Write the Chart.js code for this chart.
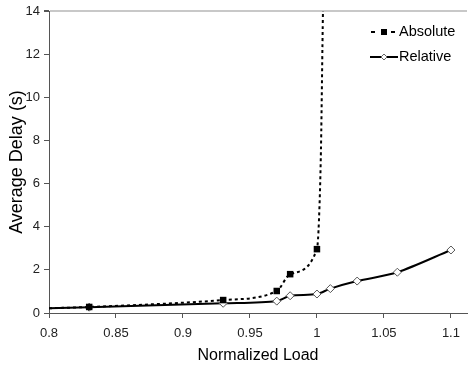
<!DOCTYPE html>
<html>
<head>
<meta charset="utf-8">
<script src="https://cdn.jsdelivr.net/npm/chart.js@4/dist/chart.umd.min.js"></script>
<style>
html,body{margin:0;padding:0;background:#fff;overflow:hidden;}
#wrap{width:472px;height:367px;position:relative;}
canvas{display:block;}
</style>
</head>
<body>
<div id="wrap"><canvas id="c" width="472" height="367"></canvas></div>
<script>
// Data
const loadAbsolute = [0.8, 0.83, 0.93, 0.97, 0.98, 1.0, 1.0015, 1.003, 1.0045, 1.006];
const delayAbsolute = [0.22, 0.28, 0.6, 1.02, 1.8, 2.96, 4.3, 7.6, 14, 18];
const markerAbsolute = [false, true, true, true, true, true, false, false, false, false];

const loadRelative = [0.8, 0.83, 0.93, 0.97, 0.98, 1.0, 1.01, 1.03, 1.06, 1.1];
const delayRelative = [0.22, 0.27, 0.45, 0.55, 0.8, 0.88, 1.13, 1.48, 1.89, 2.92];
const markerRelative = [false, true, true, true, true, true, true, true, true, true];

const xTickLabels = [0.8, 0.85, 0.9, 0.95, 1, 1.05, 1.1];
const yTickLabels = [0, 2, 4, 6, 8, 10, 12, 14];
const seriesNames = ['Absolute', 'Relative'];
const axisTitles = {x: 'Normalized Load', y: 'Average Delay (s)'};

const FONT = '"Liberation Sans", Arial, sans-serif';

const toPoints = (xs, ys) => xs.map((x, i) => ({x: x, y: ys[i]}));

const insideLegend = {
  id: 'insideLegend',
  afterDraw(chart) {
    const ctx = chart.ctx;
    ctx.save();
    ctx.font = '14.5px ' + FONT;
    ctx.fillStyle = '#000';
    ctx.textBaseline = 'middle';
    // Absolute
    let y = 32;
    ctx.fillRect(371, y - 1, 4, 2);
    ctx.fillRect(391, y - 1, 4, 2);
    ctx.fillRect(381, y - 3, 6, 6);
    ctx.fillText(seriesNames[0], 399, y);
    // Relative
    y = 57;
    ctx.strokeStyle = '#000';
    ctx.lineWidth = 2;
    ctx.beginPath(); ctx.moveTo(370, y); ctx.lineTo(398, y); ctx.stroke();
    ctx.fillStyle = '#fff';
    ctx.strokeStyle = '#666';
    ctx.lineWidth = 1;
    ctx.beginPath();
    ctx.moveTo(384, y - 3); ctx.lineTo(387, y); ctx.lineTo(384, y + 3); ctx.lineTo(381, y); ctx.closePath();
    ctx.fill(); ctx.stroke();
    ctx.fillStyle = '#000';
    ctx.fillText(seriesNames[1], 399, y);
    ctx.restore();
  }
};

new Chart(document.getElementById('c'), {
  type: 'scatter',
  data: {
    datasets: [
      {
        label: seriesNames[1],
        data: toPoints(loadRelative, delayRelative),
        showLine: true,
        borderColor: '#000',
        borderWidth: 2,
        tension: 0.3,
        pointStyle: 'rectRot',
        pointRadius: markerRelative.map(m => m ? 4 : 0),
        pointBackgroundColor: '#fff',
        pointBorderColor: '#555',
        pointBorderWidth: 1,
        order: 2
      },
      {
        label: seriesNames[0],
        data: toPoints(loadAbsolute, delayAbsolute),
        showLine: true,
        borderColor: '#000',
        borderWidth: 2,
        borderDash: [3, 3],
        cubicInterpolationMode: 'monotone',
        pointStyle: 'rect',
        pointRadius: markerAbsolute.map(m => m ? 4.6 : 0),
        pointBackgroundColor: '#000',
        pointBorderColor: '#000',
        pointBorderWidth: 0,
        order: 1
      }
    ]
  },
  options: {
    responsive: false,
    animation: false,
    events: [],
    layout: {padding: {top: 11, right: 0, left: 0, bottom: 0}},
    plugins: {legend: {display: false}, tooltip: {enabled: false}},
    scales: {
      x: {
        type: 'linear',
        min: 0.8,
        max: 1.112,
        afterBuildTicks(scale) {
          scale.ticks = xTickLabels.map(v => ({value: v}));
        },
        afterFit(scale) { scale.height = 54; scale.paddingLeft = 0; scale.paddingRight = 0; },
        ticks: {
          font: {family: FONT, size: 13},
          color: '#222',
          padding: 8,
          maxRotation: 0,
          callback: v => String(Math.round(v * 100) / 100)
        },
        grid: {drawOnChartArea: false, tickLength: 5, tickColor: '#555', color: '#555'},
        border: {color: '#555', width: 1},
        title: {display: true, text: axisTitles.x, font: {family: FONT, size: 16}, color: '#000', padding: {top: 0, bottom: 2}}
      },
      y: {
        min: 0,
        max: 14,
        afterBuildTicks(scale) {
          scale.ticks = yTickLabels.map(v => ({value: v}));
        },
        afterFit(scale) { scale.width = 49; scale.paddingTop = 0; scale.paddingBottom = 0; },
        ticks: {
          font: {family: FONT, size: 13},
          color: '#222',
          padding: 4,
          callback: v => String(v)
        },
        grid: {
          drawOnChartArea: true,
          tickLength: 5,
          tickColor: '#555',
          color: c => (c.tick && c.tick.value === 14) ? '#c8c8c8' : 'rgba(0,0,0,0)',
          lineWidth: c => (c.tick && c.tick.value === 14) ? 2 : 1
        },
        border: {color: '#555', width: 1},
        title: {display: true, text: axisTitles.y, font: {family: FONT, size: 18}, color: '#000', padding: {top: 6, bottom: 0}}
      }
    }
  },
  plugins: [insideLegend]
});
</script>
</body>
</html>
